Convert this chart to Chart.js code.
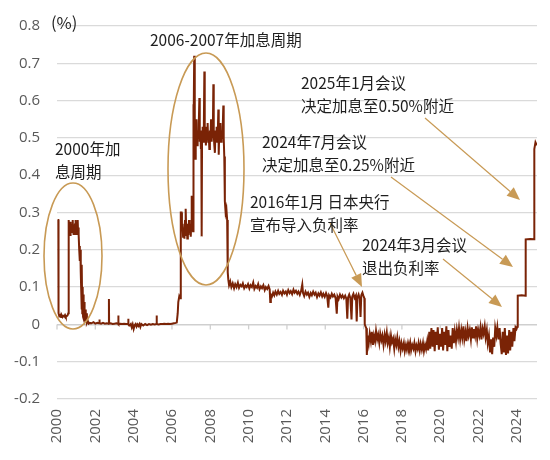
<!DOCTYPE html>
<html>
<head>
<meta charset="utf-8">
<script src="https://cdn.jsdelivr.net/npm/chart.js@4"></script>
<style>
  html, body { margin: 0; padding: 0; background: #fff; }
  #wrap { width: 550px; height: 460px; }
</style>
</head>
<body>
<div id="wrap"><canvas id="chart" width="550" height="460"></canvas></div>
<script>
// Overnight call rate (%) as [year, value]
const rate2000 = [
    [2000.03, 0.28], [2000.07, 0.28], [2000.08, 0.03], [2000.12, 0.022], [2000.17, 0.025],
    [2000.21, 0.02], [2000.25, 0.024], [2000.29, 0.02], [2000.33, 0.023], [2000.38, 0.021],
    [2000.42, 0.025], [2000.46, 0.02], [2000.5, 0.022], [2000.55, 0.024], [2000.59, 0.03],
    [2000.6, 0.26], [2000.62, 0.28], [2000.64, 0.25], [2000.66, 0.27], [2000.68, 0.24],
    [2000.7, 0.275], [2000.72, 0.25], [2000.75, 0.27], [2000.77, 0.245], [2000.8, 0.26],
    [2000.82, 0.28], [2000.84, 0.25], [2000.86, 0.24], [2000.88, 0.265], [2000.9, 0.25],
    [2000.92, 0.26], [2000.94, 0.27], [2000.96, 0.24], [2000.98, 0.28], [2001.0, 0.25],
    [2001.02, 0.27], [2001.04, 0.24], [2001.06, 0.255], [2001.08, 0.28], [2001.1, 0.245],
    [2001.12, 0.26], [2001.14, 0.24], [2001.16, 0.2], [2001.18, 0.21], [2001.2, 0.17],
    [2001.22, 0.2], [2001.24, 0.14], [2001.26, 0.1], [2001.28, 0.04], [2001.3, 0.16],
    [2001.32, 0.03], [2001.34, 0.1], [2001.36, 0.02], [2001.38, 0.08], [2001.4, 0.015],
    [2001.42, 0.06], [2001.44, 0.01], [2001.47, 0.04], [2001.5, 0.008], [2001.53, 0.03],
    [2001.56, 0.005], [2001.6, 0.01], [2001.65, 0.002]
];

const rateZero = [
    [2001.7, 0.004], [2001.8, 0.003], [2001.9, 0.006], [2002.0, 0.002], [2002.1, 0.004],
    [2002.2, 0.003], [2002.21, 0.013], [2002.23, 0.003], [2002.3, 0.002], [2002.4, 0.004],
    [2002.5, 0.002], [2002.6, 0.003], [2002.7, 0.002], [2002.71, 0.068], [2002.72, 0.002],
    [2002.8, 0.003], [2002.9, 0.001], [2003.0, 0.002], [2003.1, 0.003], [2003.19, 0.002],
    [2003.2, 0.024], [2003.21, 0.001], [2003.3, 0.002], [2003.4, 0.001], [2003.5, 0.002],
    [2003.6, 0.001], [2003.71, 0.001], [2003.72, 0.015], [2003.73, 0.0], [2003.8, -0.002],
    [2003.85, 0.001], [2003.9, -0.008], [2003.95, 0.0], [2004.0, -0.012], [2004.05, -0.002],
    [2004.1, 0.001], [2004.15, -0.006], [2004.2, 0.0], [2004.25, -0.004], [2004.3, 0.001],
    [2004.35, -0.007], [2004.4, 0.001], [2004.5, -0.003], [2004.6, 0.001], [2004.7, -0.002],
    [2004.8, 0.001], [2004.9, -0.001], [2005.0, 0.001], [2005.1, 0.0], [2005.19, 0.001],
    [2005.2, 0.024], [2005.21, 0.001], [2005.3, 0.0], [2005.4, 0.001], [2005.5, 0.001],
    [2005.6, 0.002], [2005.7, 0.001], [2005.8, 0.002], [2005.9, 0.001], [2006.0, 0.002],
    [2006.1, 0.003], [2006.2, 0.004]
];

const rate2006 = [
    [2006.25, 0.005], [2006.3, 0.03], [2006.33, 0.06], [2006.38, 0.075], [2006.42, 0.07],
    [2006.45, 0.08], [2006.47, 0.3], [2006.5, 0.3], [2006.52, 0.25], [2006.55, 0.27],
    [2006.58, 0.235], [2006.62, 0.26], [2006.65, 0.23], [2006.68, 0.28], [2006.7, 0.25],
    [2006.73, 0.31], [2006.75, 0.24], [2006.78, 0.27], [2006.8, 0.23], [2006.83, 0.26],
    [2006.86, 0.24], [2006.89, 0.28], [2006.92, 0.25], [2006.95, 0.27], [2006.98, 0.235],
    [2007.0, 0.26], [2007.02, 0.345], [2007.04, 0.25], [2007.07, 0.27], [2007.1, 0.25],
    [2007.11, 0.28], [2007.12, 0.59], [2007.14, 0.5], [2007.16, 0.72], [2007.18, 0.52],
    [2007.2, 0.49], [2007.22, 0.444], [2007.24, 0.53], [2007.26, 0.5], [2007.28, 0.55],
    [2007.31, 0.48], [2007.34, 0.52], [2007.37, 0.5], [2007.4, 0.54], [2007.43, 0.607],
    [2007.45, 0.49], [2007.48, 0.52], [2007.51, 0.47], [2007.53, 0.51], [2007.55, 0.236],
    [2007.57, 0.5], [2007.6, 0.53], [2007.63, 0.49], [2007.66, 0.51], [2007.69, 0.678],
    [2007.71, 0.5], [2007.74, 0.53], [2007.77, 0.48], [2007.8, 0.52], [2007.83, 0.5],
    [2007.86, 0.54], [2007.89, 0.49], [2007.92, 0.51], [2007.95, 0.47], [2007.98, 0.52],
    [2008.01, 0.5], [2008.04, 0.55], [2008.07, 0.49], [2008.1, 0.52], [2008.13, 0.5],
    [2008.16, 0.644], [2008.18, 0.51], [2008.21, 0.48], [2008.24, 0.46], [2008.27, 0.52],
    [2008.3, 0.5], [2008.33, 0.53], [2008.36, 0.49], [2008.39, 0.51], [2008.42, 0.576],
    [2008.44, 0.455], [2008.47, 0.52], [2008.5, 0.5], [2008.53, 0.54], [2008.56, 0.49],
    [2008.59, 0.52], [2008.62, 0.5], [2008.65, 0.53], [2008.68, 0.587], [2008.7, 0.5],
    [2008.73, 0.45], [2008.76, 0.33], [2008.8, 0.3], [2008.84, 0.31], [2008.88, 0.28],
    [2008.91, 0.14], [2008.94, 0.12]
];

const rate2009 = [
    [2008.98, 0.105], [2009.04, 0.115], [2009.1, 0.1], [2009.17, 0.11], [2009.24, 0.097],
    [2009.3, 0.108], [2009.37, 0.1], [2009.44, 0.112], [2009.5, 0.098], [2009.57, 0.106],
    [2009.64, 0.102], [2009.7, 0.11], [2009.77, 0.097], [2009.84, 0.104], [2009.9, 0.1],
    [2009.97, 0.108], [2010.04, 0.096], [2010.1, 0.105], [2010.17, 0.1], [2010.24, 0.112],
    [2010.3, 0.095], [2010.37, 0.103], [2010.44, 0.098], [2010.5, 0.108], [2010.57, 0.094],
    [2010.64, 0.102], [2010.7, 0.097], [2010.77, 0.105], [2010.84, 0.092], [2010.9, 0.1],
    [2010.97, 0.095], [2011.04, 0.103], [2011.1, 0.094], [2011.13, 0.06], [2011.16, 0.08],
    [2011.22, 0.075], [2011.28, 0.085], [2011.34, 0.078], [2011.4, 0.088], [2011.47, 0.08],
    [2011.54, 0.09], [2011.6, 0.082], [2011.67, 0.087], [2011.74, 0.079], [2011.8, 0.09],
    [2011.87, 0.083], [2011.94, 0.088], [2012.0, 0.08], [2012.07, 0.092], [2012.14, 0.084],
    [2012.2, 0.089], [2012.27, 0.081], [2012.34, 0.093], [2012.4, 0.085], [2012.47, 0.09],
    [2012.54, 0.082], [2012.6, 0.088], [2012.67, 0.079], [2012.74, 0.09], [2012.8, 0.107],
    [2012.84, 0.084], [2012.9, 0.076], [2012.97, 0.088], [2013.04, 0.08], [2013.1, 0.085],
    [2013.17, 0.074], [2013.24, 0.084], [2013.3, 0.078], [2013.37, 0.088], [2013.44, 0.08],
    [2013.5, 0.085], [2013.57, 0.073], [2013.64, 0.083], [2013.7, 0.077], [2013.77, 0.086],
    [2013.84, 0.075], [2013.9, 0.082], [2013.97, 0.074], [2014.04, 0.084], [2014.1, 0.076],
    [2014.16, 0.045], [2014.2, 0.078], [2014.27, 0.072], [2014.34, 0.082], [2014.4, 0.075],
    [2014.47, 0.08], [2014.54, 0.07], [2014.6, 0.029], [2014.64, 0.075], [2014.7, 0.068],
    [2014.77, 0.08], [2014.84, 0.072], [2014.9, 0.078], [2014.97, 0.07], [2015.04, 0.077],
    [2015.1, 0.069], [2015.15, 0.015], [2015.19, 0.072], [2015.25, 0.08], [2015.31, 0.07],
    [2015.37, 0.013], [2015.41, 0.075], [2015.47, 0.082], [2015.53, 0.071], [2015.6, 0.078],
    [2015.64, 0.008], [2015.68, 0.072], [2015.74, 0.08], [2015.8, 0.068], [2015.84, 0.02],
    [2015.88, 0.078], [2015.94, 0.085], [2016.0, 0.075], [2016.04, 0.07]
];

const rateNegative = [
    [2016.06, 0.0], [2016.1, -0.005], [2016.14, -0.01], [2016.17, -0.082], [2016.22, -0.03],
    [2016.27, -0.05], [2016.32, -0.025], [2016.38, -0.045], [2016.43, -0.02], [2016.49, -0.055],
    [2016.54, -0.03], [2016.6, -0.045], [2016.65, -0.018], [2016.71, -0.04], [2016.76, -0.028],
    [2016.82, -0.05], [2016.87, -0.025], [2016.93, -0.042], [2016.98, -0.03], [2017.04, -0.055],
    [2017.1, -0.028], [2017.15, -0.045], [2017.21, -0.022], [2017.26, -0.05], [2017.32, -0.035],
    [2017.37, -0.06], [2017.43, -0.03], [2017.48, -0.048], [2017.54, -0.038], [2017.6, -0.065],
    [2017.65, -0.04], [2017.71, -0.055], [2017.76, -0.035], [2017.82, -0.06], [2017.87, -0.045],
    [2017.93, -0.07], [2017.98, -0.05], [2018.04, -0.065], [2018.1, -0.05], [2018.15, -0.072],
    [2018.21, -0.055], [2018.26, -0.068], [2018.32, -0.05], [2018.37, -0.062], [2018.43, -0.048],
    [2018.48, -0.07], [2018.54, -0.055], [2018.6, -0.065], [2018.65, -0.05], [2018.71, -0.072],
    [2018.76, -0.056], [2018.82, -0.066], [2018.87, -0.05], [2018.93, -0.07], [2018.98, -0.052],
    [2019.04, -0.068], [2019.1, -0.05], [2019.15, -0.072], [2019.21, -0.055], [2019.26, -0.066],
    [2019.32, -0.045], [2019.37, -0.07], [2019.43, -0.02], [2019.48, -0.065], [2019.54, -0.01],
    [2019.6, -0.06], [2019.65, -0.015], [2019.71, -0.072], [2019.76, -0.02], [2019.82, -0.055],
    [2019.87, -0.008], [2019.93, -0.068], [2019.98, -0.025], [2020.04, -0.06], [2020.1, -0.01],
    [2020.15, -0.07], [2020.21, -0.02], [2020.26, -0.055], [2020.32, -0.005], [2020.37, -0.072],
    [2020.43, -0.015], [2020.48, -0.06], [2020.54, -0.03], [2020.6, -0.065], [2020.65, -0.01],
    [2020.71, -0.05], [2020.76, -0.02], [2020.82, -0.045], [2020.87, -0.015], [2020.93, -0.035],
    [2020.98, -0.01], [2021.04, -0.04], [2021.1, -0.015], [2021.15, -0.035], [2021.21, -0.005],
    [2021.26, -0.04], [2021.32, -0.02], [2021.37, -0.045], [2021.43, -0.01], [2021.48, -0.03],
    [2021.54, -0.015], [2021.6, -0.04], [2021.65, -0.008], [2021.71, -0.035], [2021.76, -0.012],
    [2021.82, -0.03], [2021.87, -0.005], [2021.93, -0.038], [2021.98, -0.015], [2022.04, -0.03],
    [2022.1, -0.008], [2022.15, -0.04], [2022.21, -0.012], [2022.26, -0.025], [2022.32, -0.005],
    [2022.37, -0.035], [2022.43, -0.015], [2022.48, -0.05], [2022.54, -0.03], [2022.6, -0.075],
    [2022.65, -0.04], [2022.71, -0.08], [2022.76, -0.035], [2022.82, -0.06], [2022.87, -0.01],
    [2022.93, -0.03], [2022.98, -0.008], [2023.04, -0.04], [2023.1, -0.01], [2023.15, -0.05],
    [2023.21, -0.08], [2023.26, -0.02], [2023.32, -0.075], [2023.37, -0.01], [2023.43, -0.082],
    [2023.48, -0.03], [2023.54, -0.078], [2023.6, -0.015], [2023.65, -0.07], [2023.71, -0.02],
    [2023.76, -0.06], [2023.82, -0.01], [2023.87, -0.045], [2023.93, -0.008], [2023.98, -0.012],
    [2024.02, -0.006], [2024.04, -0.005]
];

const rate2024 = [
    [2024.05, 0.077], [2024.25, 0.078], [2024.45, 0.077], [2024.46, 0.228], [2024.7, 0.229],
    [2024.9, 0.228], [2024.91, 0.47], [2024.97, 0.488], [2025.04, 0.48]
];

const yearTicks = { min: 2000, max: 2025.05, step: 2 };
const rateTicks = { min: -0.2, max: 0.8, step: 0.1 };

// text notes, ellipses and arrows (canvas pixels)
const notes = [
    { lines: ['(%)'], x: 51, y: 23, size: 16.5 },
    { lines: ['2006-2007年加息周期'], x: 150, y: 40 },
    { lines: ['2000年加', '息周期'], x: 55, y: 149 },
    { lines: ['2025年1月会议', '决定加息至0.50%附近'], x: 301, y: 83 },
    { lines: ['2024年7月会议', '决定加息至0.25%附近'], x: 262, y: 142 },
    { lines: ['2016年1月 日本央行', '宣布导入负利率'], x: 250, y: 202 },
    { lines: ['2024年3月会议', '退出负利率'], x: 362, y: 245 }
];
const rings = [
    { cx: 73, cy: 256, rx: 29, ry: 73 },
    { cx: 206, cy: 169, rx: 38, ry: 116 }
];
const arrows = [
    { from: [425, 118], to: [520, 200] },
    { from: [391, 177], to: [513, 267] },
    { from: [443, 259], to: [502, 307] },
    { from: [330, 223], to: [362, 287] }
];

const points = [...rate2000, ...rateZero, ...rate2006, ...rate2009, ...rateNegative, ...rate2024]
    .map(([x, y]) => ({ x, y }));

const gold = '#c89a55';

const decor = {
    id: 'decor',
    beforeDatasetsDraw(chart) {
        // small tick marks hanging off the zero line
        const { ctx, scales } = chart;
        const y0 = scales.y.getPixelForValue(0);
        ctx.save();
        ctx.strokeStyle = '#cfcfcf';
        ctx.lineWidth = 1.3;
        scales.x.ticks.forEach(t => {
            const x = scales.x.getPixelForValue(t.value);
            ctx.beginPath();
            ctx.moveTo(x, y0);
            ctx.lineTo(x, y0 + 5);
            ctx.stroke();
        });
        ctx.restore();
    },
    afterDatasetsDraw(chart) {
        const ctx = chart.ctx;
        ctx.save();
        ctx.strokeStyle = gold;
        ctx.fillStyle = gold;
        ctx.lineWidth = 1.6;
        rings.forEach(r => {
            ctx.beginPath();
            ctx.ellipse(r.cx, r.cy, r.rx, r.ry, 0, 0, Math.PI * 2);
            ctx.stroke();
        });
        ctx.lineWidth = 1.2;
        arrows.forEach(a => {
            const [x1, y1] = a.from;
            const [x2, y2] = a.to;
            const ang = Math.atan2(y2 - y1, x2 - x1);
            const len = 13, half = 5.5;
            const bx = x2 - len * Math.cos(ang), by = y2 - len * Math.sin(ang);
            ctx.beginPath();
            ctx.moveTo(x1, y1);
            ctx.lineTo(bx, by);
            ctx.stroke();
            ctx.beginPath();
            ctx.moveTo(x2, y2);
            ctx.lineTo(bx + half * Math.sin(ang), by - half * Math.cos(ang));
            ctx.lineTo(bx - half * Math.sin(ang), by + half * Math.cos(ang));
            ctx.closePath();
            ctx.fill();
        });
        ctx.fillStyle = '#1e1e1e';
        ctx.textAlign = 'left';
        ctx.textBaseline = 'middle';
        notes.forEach(n => {
            ctx.font = (n.size || 15.5) + 'px "Noto Sans CJK SC", "Noto Sans", sans-serif';
            n.lines.forEach((line, i) => ctx.fillText(line, n.x, n.y + i * 23));
        });
        ctx.restore();
    }
};

const tickFont = { family: '"Open Sans", "Liberation Sans", sans-serif', size: 15 };

new Chart(document.getElementById('chart').getContext('2d'), {
    type: 'line',
    data: {
        datasets: [{
            data: points,
            borderColor: '#7a2306',
            borderWidth: 2,
            pointRadius: 0,
            tension: 0,
            fill: false
        }]
    },
    options: {
        responsive: false,
        animation: false,
        layout: { padding: { top: 22, right: 13, left: 0, bottom: 0 } },
        plugins: {
            legend: { display: false },
            tooltip: { enabled: false }
        },
        scales: {
            x: {
                type: 'linear',
                min: yearTicks.min,
                max: yearTicks.max,
                grid: { display: false, drawTicks: false },
                border: { display: false },
                ticks: {
                    stepSize: yearTicks.step,
                    includeBounds: false,
                    minRotation: 90,
                    maxRotation: 90,
                    padding: 10,
                    color: '#595959',
                    font: tickFont,
                    callback: v => String(Math.round(v))
                },
                afterFit: s => { s.height = 61; }
            },
            y: {
                min: rateTicks.min,
                max: rateTicks.max,
                grid: {
                    drawTicks: false,
                    color: ctx => (ctx.tick && Math.abs(ctx.tick.value) < 1e-9) ? '#cfcfcf' : '#dadada',
                    lineWidth: ctx => (ctx.tick && Math.abs(ctx.tick.value) < 1e-9) ? 1.6 : 1.3
                },
                border: { display: false },
                ticks: {
                    stepSize: rateTicks.step,
                    padding: 17,
                    color: '#595959',
                    font: tickFont,
                    callback: v => String(Math.round(v * 10) / 10)
                },
                afterFit: s => { s.width = 57; }
            }
        }
    },
    plugins: [decor]
});
</script>
</body>
</html>
